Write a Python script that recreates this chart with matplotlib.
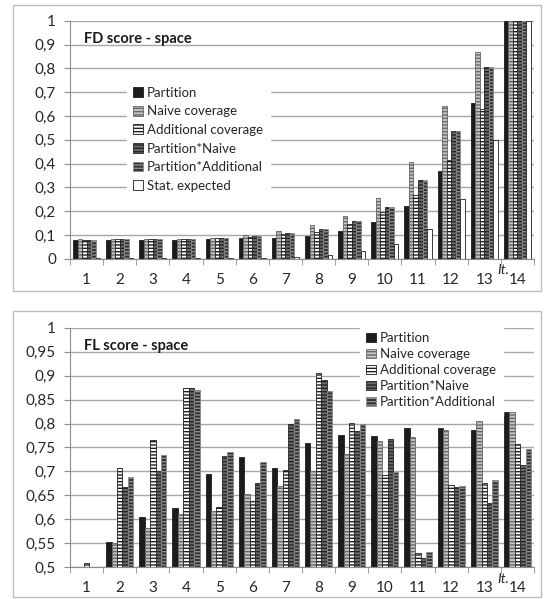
import numpy as np
import matplotlib
matplotlib.use("Agg")
import matplotlib.pyplot as plt
from matplotlib.patches import Rectangle
from matplotlib.ticker import FuncFormatter, FixedLocator

plt.rcParams['font.family'] = ['Lato', 'DejaVu Sans']
plt.rcParams['hatch.linewidth'] = 1.0

iterations = list(range(1, 15))

# FD score - space
fd_partition = [0.080, 0.080, 0.080, 0.080, 0.084, 0.087, 0.088, 0.095, 0.118, 0.154, 0.221, 0.367, 0.653, 1.0]
fd_naive = [0.084, 0.082, 0.082, 0.084, 0.088, 0.098, 0.116, 0.140, 0.179, 0.253, 0.408, 0.640, 0.867, 1.0]
fd_additional = [0.080, 0.081, 0.081, 0.081, 0.086, 0.091, 0.104, 0.113, 0.144, 0.197, 0.267, 0.415, 0.627, 1.0]
fd_part_naive = [0.080, 0.081, 0.081, 0.081, 0.087, 0.094, 0.106, 0.125, 0.158, 0.217, 0.330, 0.536, 0.804, 1.0]
fd_part_add = [0.080, 0.081, 0.081, 0.081, 0.087, 0.094, 0.106, 0.125, 0.158, 0.217, 0.330, 0.536, 0.804, 1.0]
fd_stat = [0.003, 0.003, 0.003, 0.003, 0.003, 0.003, 0.007, 0.014, 0.032, 0.060, 0.123, 0.249, 0.499, 1.0]

# FL score - space
fl_partition = [0.50, 0.552, 0.604, 0.624, 0.694, 0.731, 0.707, 0.759, 0.776, 0.775, 0.790, 0.790, 0.787, 0.825]
fl_naive = [0.50, 0.550, 0.581, 0.611, 0.617, 0.653, 0.669, 0.701, 0.736, 0.764, 0.771, 0.787, 0.806, 0.825]
fl_additional = [0.510, 0.707, 0.765, 0.874, 0.626, 0.638, 0.703, 0.905, 0.802, 0.692, 0.529, 0.671, 0.675, 0.757]
fl_part_naive = [0.50, 0.667, 0.702, 0.874, 0.732, 0.676, 0.799, 0.891, 0.785, 0.768, 0.519, 0.668, 0.635, 0.713]
fl_part_add = [0.50, 0.688, 0.734, 0.871, 0.741, 0.719, 0.810, 0.867, 0.799, 0.699, 0.532, 0.669, 0.682, 0.747]

# (face, hatch colour, hatch)
styles = {
    "Partition": ("#1c1c1c", "#1c1c1c", None),
    "Naive coverage": ("#c4c4c4", "#666666", "-----"),
    "Additional coverage": ("#ffffff", "#1e1e1e", "-----"),
    "Partition*Naive": ("#6a6a6a", "#262626", "-----"),
    "Partition*Additional": ("#333333", "#8c8c8c", "-----"),
    "Stat. expected": ("#ffffff", "#1e1e1e", None),
}

W, H = 544, 599
fig = plt.figure(figsize=(W / 100, H / 100), dpi=100)

# panel frames
for (x0, y0, x1, y1) in [(13, 5, 541, 291), (13, 311, 541, 597)]:
    fig.patches.append(Rectangle((x0 / W, 1 - y1 / H), (x1 - x0) / W, (y1 - y0) / H,
                                 transform=fig.transFigure, fill=False,
                                 edgecolor="#bdbdbd", linewidth=1.0))


def comma(v, pos):
    if abs(v) < 1e-9:
        return "0"
    if abs(v - 1) < 1e-9:
        return "1"
    return ("%g" % round(v, 3)).replace(".", ",")


def draw_panel(ax, series, ylim, ystep, title, legend_anchor, labelspacing):
    x = np.arange(1, 15)
    n = len(series)
    group = 0.82
    bw = group / n
    for k, (name, vals) in enumerate(series):
        face, hcol, hatch = styles[name]
        offs = -group / 2 + bw * (k + 0.5)
        ax.bar(x + offs, vals, width=bw, color=face, edgecolor=hcol,
               hatch=hatch, linewidth=0.6, label=name, zorder=2)

    ax.set_xlim(0.5, 14.5)
    ax.set_ylim(*ylim)
    ax.set_yticks(np.arange(ylim[0], ylim[1] + 1e-9, ystep))
    ax.yaxis.set_major_formatter(FuncFormatter(comma))
    ax.grid(axis="y", color="#a8a8a8", linewidth=1.0, zorder=0)
    ax.set_axisbelow(True)
    for s in ("top", "right"):
        ax.spines[s].set_visible(False)
    for s in ("left", "bottom"):
        ax.spines[s].set_color("#8c8c8c")
    ax.set_xticks(x)
    ax.set_xticklabels([str(i) for i in iterations])
    ax.xaxis.set_minor_locator(FixedLocator(np.arange(0.5, 14.6, 1)))
    ax.tick_params(axis="x", which="major", length=0, pad=10, labelsize=11, labelcolor="#262626")
    ax.tick_params(axis="x", which="minor", length=4, color="#8c8c8c", direction="out")
    ax.tick_params(axis="y", length=4, color="#8c8c8c", pad=6, labelsize=11, labelcolor="#262626")

    ax.text(0.03, 0.925, title, transform=ax.transAxes, fontsize=10.5,
            fontweight="bold", color="#1a1a1a", va="center", ha="left")
    ax.text(0.92, -0.048, "It.", transform=ax.transAxes, fontsize=10,
            style="italic", color="#262626", va="center", ha="left")

    leg = ax.legend(loc="upper left", bbox_to_anchor=legend_anchor, frameon=True,
                    fontsize=9.5, handlelength=0.75, handleheight=0.75,
                    handletextpad=0.3, labelspacing=labelspacing,
                    borderpad=0.5, fancybox=False)
    leg.get_frame().set_facecolor("white")
    leg.get_frame().set_edgecolor("white")
    leg.get_frame().set_alpha(1)
    for t in leg.get_texts():
        t.set_color("#262626")


ax1 = fig.add_axes([70 / W, 1 - 258.7 / H, 464 / W, 238 / H])
draw_panel(ax1,
           [("Partition", fd_partition), ("Naive coverage", fd_naive),
            ("Additional coverage", fd_additional), ("Partition*Naive", fd_part_naive),
            ("Partition*Additional", fd_part_add), ("Stat. expected", fd_stat)],
           (0, 1), 0.1, "FD score - space", (0.108, 0.778), 0.5)

ax2 = fig.add_axes([70 / W, 1 - 567.3 / H, 464 / W, 239.6 / H])
draw_panel(ax2,
           [("Partition", fl_partition), ("Naive coverage", fl_naive),
            ("Additional coverage", fl_additional), ("Partition*Naive", fl_part_naive),
            ("Partition*Additional", fl_part_add)],
           (0.5, 1), 0.05, "FL score - space", (0.61, 1.036), 0.3)

fig.savefig("out.png", dpi=100)
